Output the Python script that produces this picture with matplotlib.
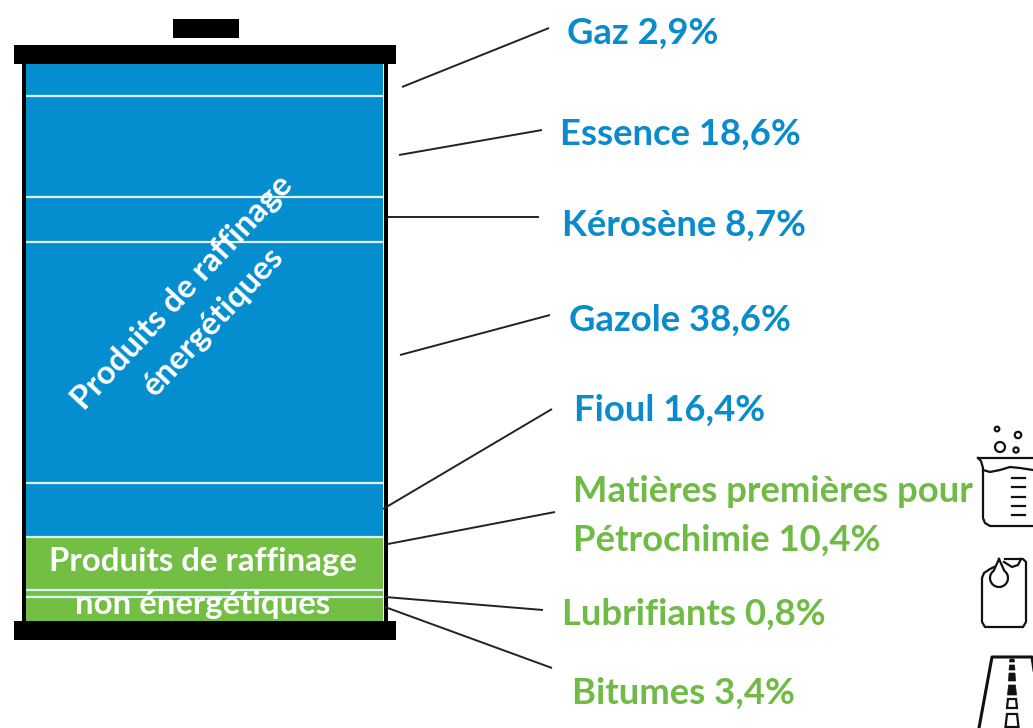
import matplotlib
matplotlib.use("Agg")
import matplotlib.pyplot as plt
from matplotlib.patches import Circle, Polygon, Rectangle
import numpy as np

# --- data ---
names = ["Gaz", "Essence", "Kérosène", "Gazole", "Fioul",
         "Matières premières pour\nPétrochimie", "Lubrifiants", "Bitumes"]
percent = ["2,9", "18,6", "8,7", "38,6", "16,4", "10,4", "0,8", "3,4"]
# the drawn heights in the picture, not proportional to the percentages
heights = [32, 101, 45, 241, 54, 53, 7, 24]
groups = ["e", "e", "e", "e", "e", "n", "n", "n"]
label_x = [567, 560, 562, 569, 574, 573, 562, 572]
label_y = [33, 134, 225, 320, 410, 516, 614, 693]
lead_start = [(402, 87), (399, 155), (388, 217), (400, 355), (383, 509), (388, 544), (385, 597), (385, 607)]
lead_end = [(549, 28), (542, 130), (539, 217), (550, 315), (552, 409), (555, 512), (543, 610), (552, 668)]

BLUE = "#058ecf"
GREEN = "#72bf44"
TXT_BLUE = "#0a8bcb"
TXT_GREEN = "#6fbb45"

plt.rcParams["font.family"] = ["Lato", "DejaVu Sans"]

fig = plt.figure(figsize=(10.33, 7.28), dpi=100, facecolor="white")
ax = fig.add_axes([0, 0, 1, 1])
ax.set_xlim(0, 1033)
ax.set_ylim(728, 0)
ax.axis("off")

# --- stacked column ---
bottoms = 64 + np.concatenate([[0], np.cumsum(heights[:-1])])
cols = [BLUE if g == "e" else GREEN for g in groups]
ax.bar([204.5] * 8, heights, width=357, bottom=bottoms, color=cols, linewidth=0, zorder=2)
ax.hlines(bottoms[1:], 26, 383, color="#dff1fa", lw=1.6, zorder=2.5)

# tank frame
ax.add_patch(Rectangle((22, 50), 4, 580, color="black", lw=0, zorder=3))
ax.add_patch(Rectangle((384, 50), 4, 580, color="black", lw=0, zorder=3))
ax.add_patch(Rectangle((14, 45), 382, 19, color="black", lw=0, zorder=4))
ax.add_patch(Rectangle((14, 621), 382, 19, color="black", lw=0, zorder=4))
ax.add_patch(Rectangle((173, 19), 66, 19, color="black", lw=0, zorder=4))

# text inside the column
ax.text(198, 307, "Produits de raffinage\nénergétiques", color="white", fontsize=23.8,
        fontweight="bold", rotation=47, rotation_mode="anchor", ha="center", va="center",
        linespacing=1.6, zorder=5)
ax.text(203, 583, "Produits de raffinage\nnon énergétiques", color="white", fontsize=23.8,
        fontweight="bold", ha="center", va="center", linespacing=1.55, zorder=5)

# --- leaders and labels ---
for s, e in zip(lead_start, lead_end):
    ax.plot([s[0], e[0]], [s[1], e[1]], color="#222222", lw=1.4, zorder=3, solid_capstyle="butt")
for i in range(8):
    c = TXT_BLUE if groups[i] == "e" else TXT_GREEN
    ax.text(label_x[i], label_y[i], names[i] + " " + percent[i] + "%", color=c, fontsize=26.3,
            fontweight="bold", ha="left", va="center", linespacing=1.6, zorder=5)

# --- icons ---
k = "#111111"
lw = 1.6
# beaker
ax.plot([978, 981, 983, 983, 985, 990, 1040], [458, 461, 468, 518, 523, 526, 526], color=k, lw=lw)
ax.plot([978, 1040], [458, 458], color=k, lw=lw)
ax.plot([983, 990, 1000, 1010, 1020, 1033], [470, 472, 470, 467, 468, 470], color=k, lw=lw)
for yy in [478, 487, 497, 506, 515]:
    ax.plot([1012, 1025], [yy, yy], color=k, lw=lw)
for cx, cy, r in [(997, 429, 2.3), (1018, 435, 3.2), (1000, 447, 5), (1016, 450, 2.6)]:
    ax.add_patch(Circle((cx, cy), r, fill=False, ec=k, lw=lw))
# jerrycan
ax.plot([994, 990, 984, 982, 982, 985, 1023, 1026, 1026, 1023, 1005],
        [567, 569, 573, 578, 622, 627, 627, 622, 562, 559, 559], color=k, lw=lw)
a = np.linspace(-0.3 * np.pi, 1.3 * np.pi, 30)
ax.plot(np.r_[999, 999 + 9 * np.cos(a), 999], np.r_[559, 578 + 9 * np.sin(a), 559], color=k, lw=lw)
ax.plot([1004, 1012, 1018, 1021], [562, 567, 565, 559], color=k, lw=lw)
# road
ax.plot([979, 992, 1032, 1040], [728, 657, 657, 710], color=k, lw=2.2)
for y0, y1, w0, w1 in [(659, 662, 2, 2.5), (665, 670, 2.5, 3), (673, 681, 3, 3.5), (685, 695, 3.5, 4.5)]:
    ax.add_patch(Polygon([(1012 - w0, y0), (1012 + w0, y0), (1012 + w1, y1), (1012 - w1, y1)],
                         closed=True, fc=k, ec=k, lw=0.5))
for y0, y1, w0, w1 in [(699, 708, 4, 5), (714, 727, 5, 6.5)]:
    ax.add_patch(Polygon([(1012 - w0, y0), (1012 + w0, y0), (1012 + w1, y1), (1012 - w1, y1)],
                         closed=True, fc="white", ec=k, lw=lw))

fig.savefig("out.png", dpi=100)
